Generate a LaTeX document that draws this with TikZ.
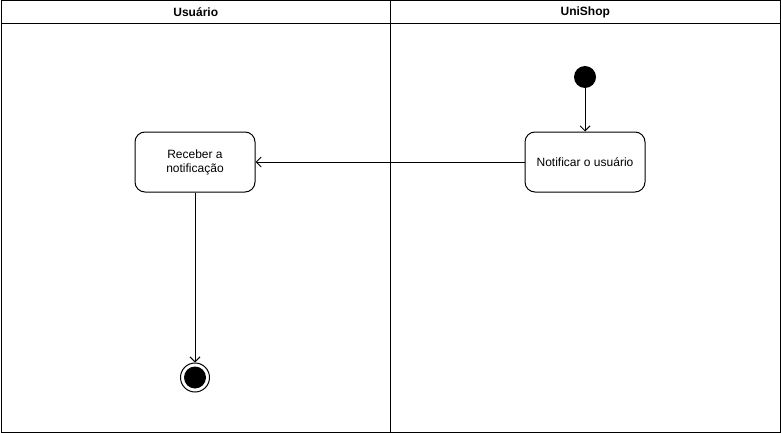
\documentclass[tikz,border=0pt]{standalone}
\usepackage{fontspec}
\setmainfont{Liberation Sans}
\usetikzlibrary{positioning, arrows.meta}

\begin{document}
\begin{tikzpicture}[
          x=1pt, y=-1pt, line width=1pt,
          font=\fontsize{12}{14}\selectfont,
          lanehead/.style={rectangle, draw, anchor=north west, minimum width=389.5pt, minimum height=23pt, inner sep=0pt, font=\fontsize{12}{14}\selectfont\bfseries},
          lanebody/.style={rectangle, draw, anchor=north west, minimum width=389.5pt, minimum height=408.5pt, inner sep=0pt},
          action/.style={rectangle, draw, rounded corners=10pt, minimum width=120pt, minimum height=60pt, align=center, inner sep=2pt},
          start/.style={circle, fill=black, minimum size=22pt, inner sep=0pt},
          stop/.style={circle, draw, fill=white, minimum size=29pt, inner sep=0pt, path picture={\fill[black] (path picture bounding box.center) circle (11pt);}},
          arrow/.style={-{Straight Barb[length=5pt, width=10pt]}}
        ]
          \useasboundingbox (0,0) rectangle (781,433);

          % Swimlanes
          \node[lanehead] (headuser) at (0.5,0.5) {Usuário};
          \node[lanehead] (headshop) at (390,0.5) {UniShop};
          \node[lanebody] (laneuser) at (0.5,23.5) {};
          \node[lanebody] (laneshop) at (390,23.5) {};

          % UniShop lane
          \node[start] (init) at (585,77) {};
          \node[action] (notify) at (585,162) {Notificar o usuário};

          % Usuario lane
          \node[action] (receive) at (195,162) {Receber a\\notificação};
          \node[stop, below=170pt of receive] (final) {};

          % Arrows
          \draw[arrow] (init) -- (notify);
          \draw[arrow] (notify) -- (receive);
          \draw[arrow] (receive) -- (final);
      \end{tikzpicture}
\end{document}
